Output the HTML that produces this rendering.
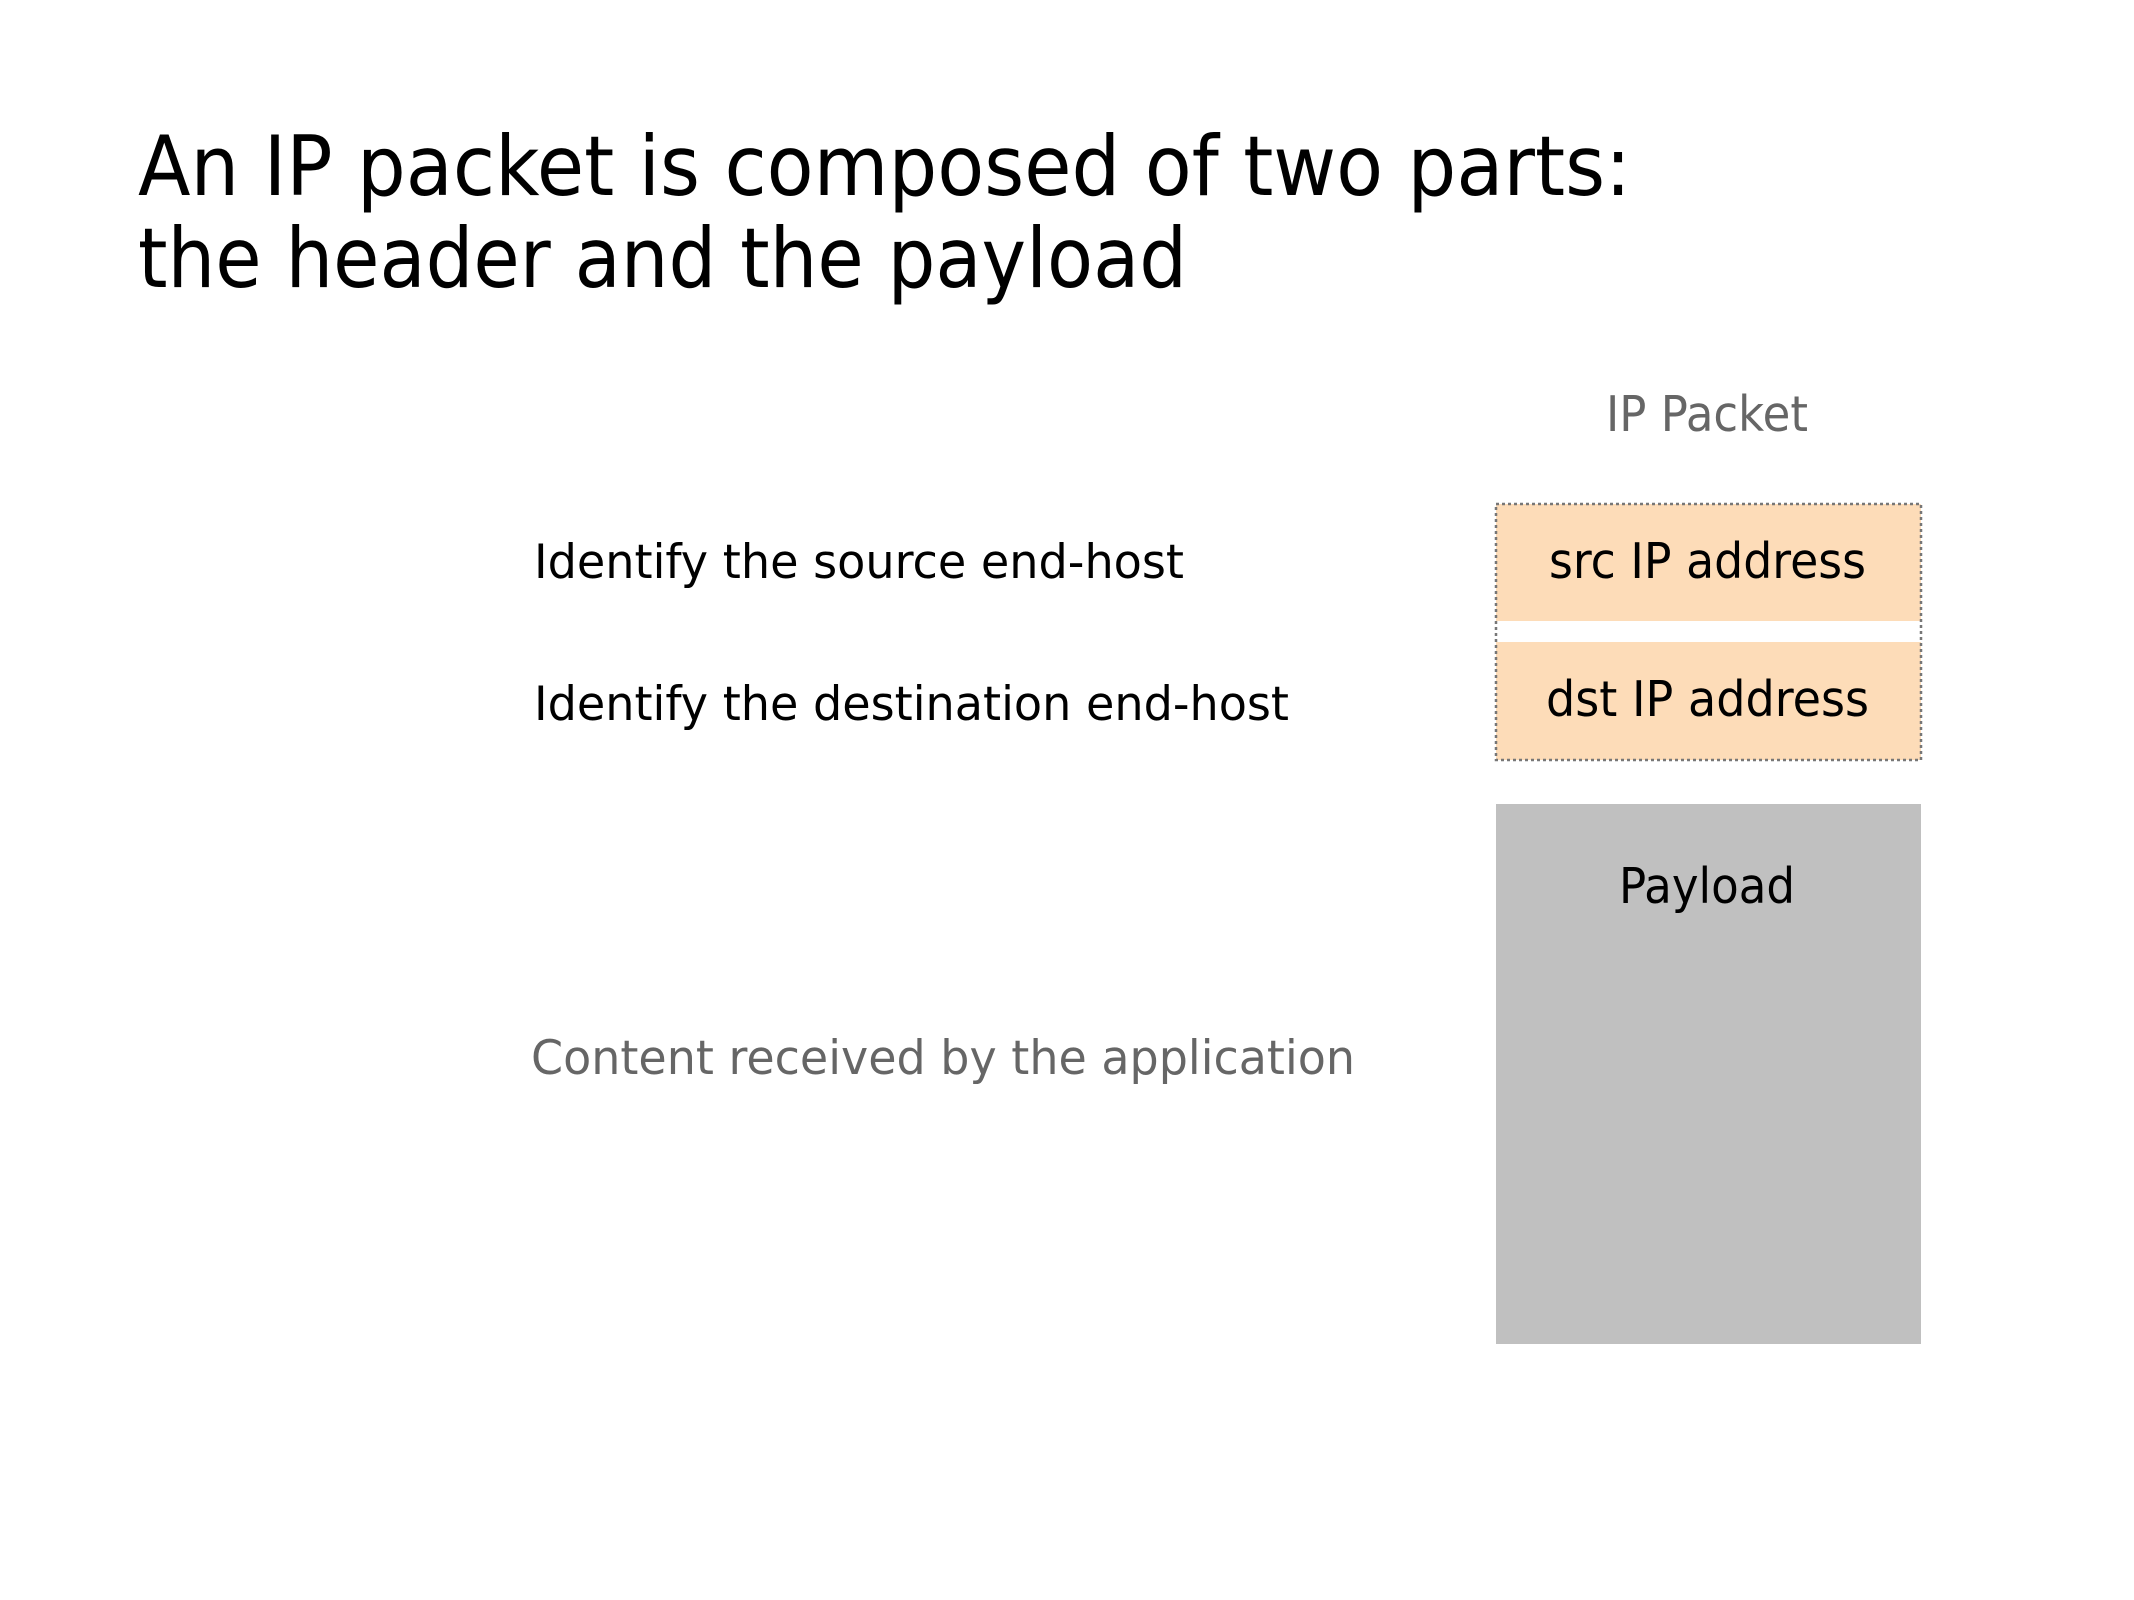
<!DOCTYPE html>
<html><head><meta charset="utf-8"><style>html,body{margin:0;padding:0;background:#fff}svg{display:block}</style></head>
<body>
<svg width="2134" height="1600" viewBox="0 0 2134 1600" xmlns="http://www.w3.org/2000/svg" font-family="'DejaVu Sans','Liberation Sans',sans-serif">
<rect width="2134" height="1600" fill="#fff"/>
<text x="138" y="195" font-size="83" textLength="1493" lengthAdjust="spacingAndGlyphs" fill="#000">An IP packet is composed of two parts:</text>
<text x="138" y="287" font-size="83" textLength="1049" lengthAdjust="spacingAndGlyphs" fill="#000">the header and the payload</text>
<text x="1606" y="431" font-size="49" textLength="202" lengthAdjust="spacingAndGlyphs" fill="#666">IP Packet</text>
<text x="534" y="578" font-size="47" textLength="650" lengthAdjust="spacingAndGlyphs" fill="#000">Identify the source end-host</text>
<text x="534" y="720" font-size="47" textLength="755" lengthAdjust="spacingAndGlyphs" fill="#000">Identify the destination end-host</text>
<text x="531" y="1074" font-size="47" textLength="824" lengthAdjust="spacingAndGlyphs" fill="#666">Content received by the application</text>
<rect x="1496" y="504" width="425" height="117" fill="#fddcb8"/>
<rect x="1496" y="642" width="425" height="118" fill="#fddcb8"/>
<rect x="1496" y="504" width="425" height="256" fill="none" stroke="#777" stroke-width="2.5" stroke-dasharray="3,3"/>
<text x="1549" y="578" font-size="49" textLength="317" lengthAdjust="spacingAndGlyphs" fill="#000">src IP address</text>
<text x="1546" y="716" font-size="49" textLength="323" lengthAdjust="spacingAndGlyphs" fill="#000">dst IP address</text>
<rect x="1496" y="804" width="425" height="540" fill="#c0c0c0"/>
<text x="1619" y="903" font-size="49" textLength="176" lengthAdjust="spacingAndGlyphs" fill="#000">Payload</text>
</svg>
</body></html>
